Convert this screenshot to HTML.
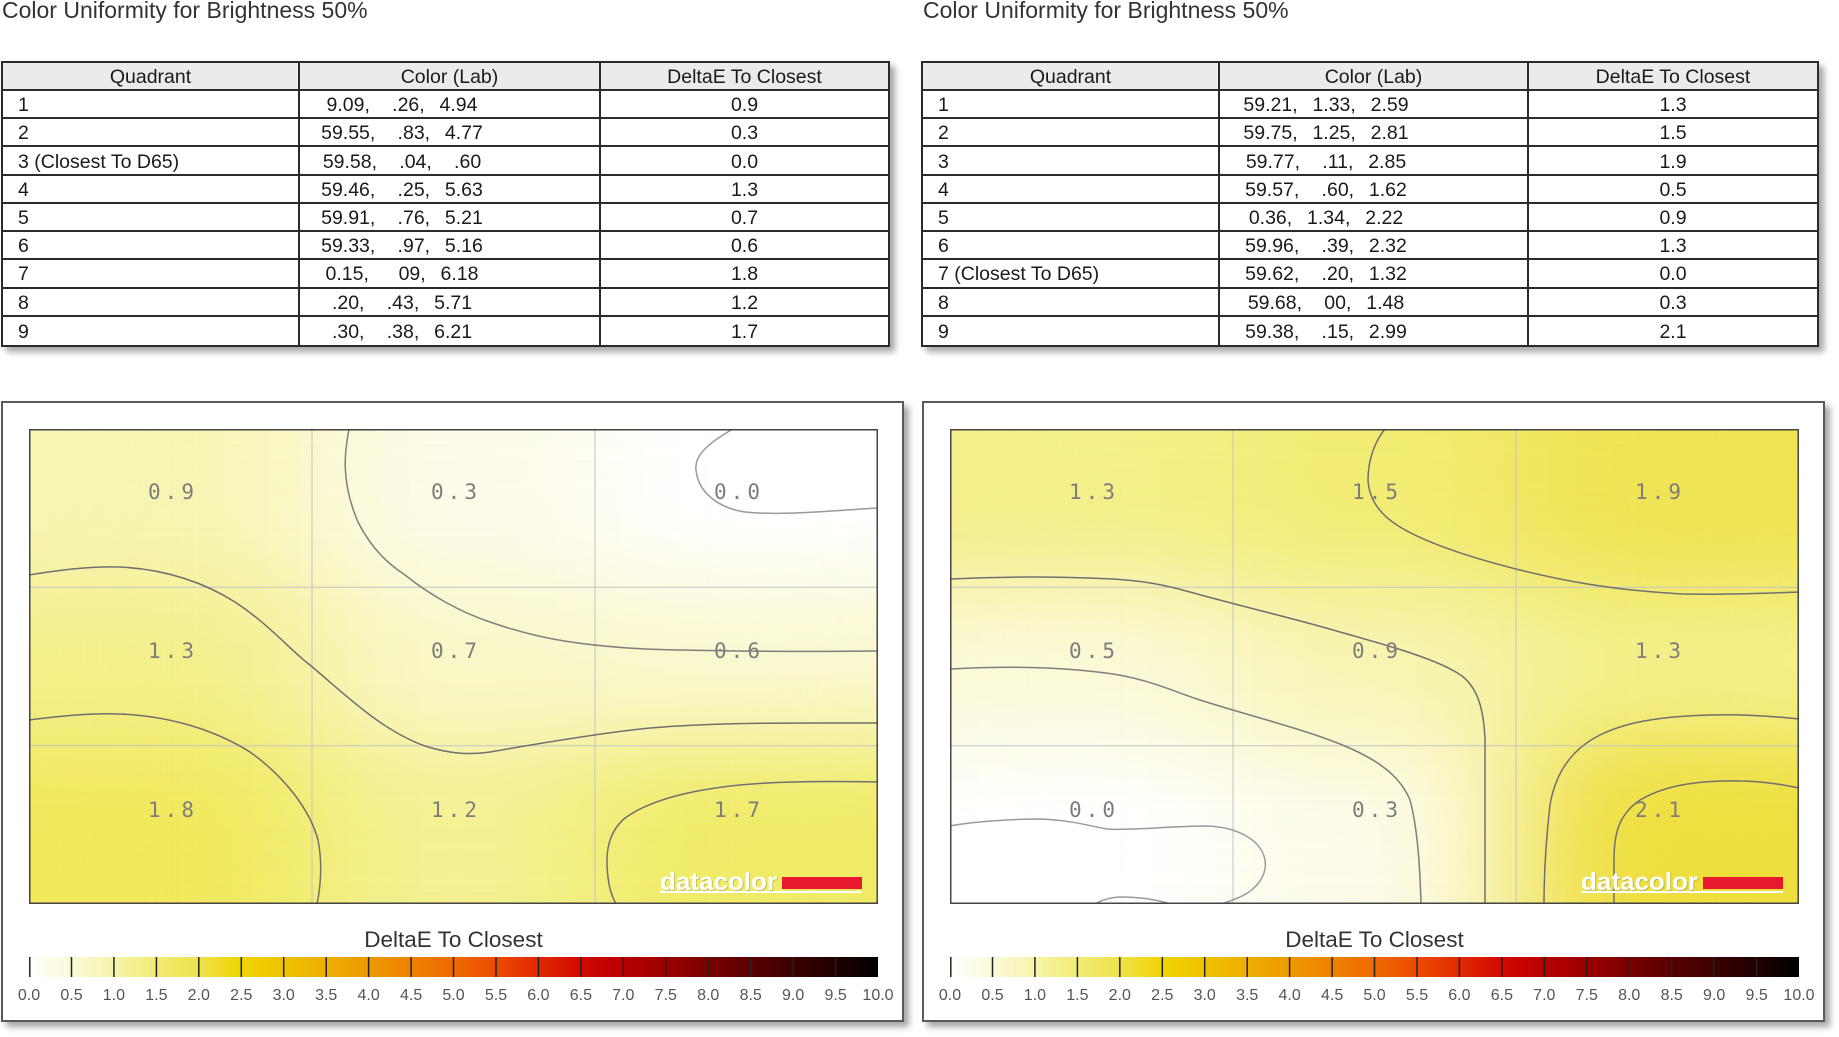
<!DOCTYPE html>
<html>
<head>
<meta charset="utf-8">
<style>
  html,body{margin:0;padding:0;background:#fff;width:1839px;height:1037px;overflow:hidden;}
  body{position:relative;font-family:"Liberation Sans",Arial,sans-serif;}
  .title{position:absolute;top:-3px;font-size:23px;line-height:26px;color:#333;white-space:nowrap;}
  .tbl{position:absolute;top:61px;height:286px;box-sizing:border-box;border:2px solid #2b2b2b;display:grid;
       grid-template-rows:28px repeat(9,1fr);box-shadow:5px 5px 6px rgba(0,0,0,0.35);background:#fff;}
  .tbl div{box-sizing:border-box;border-right:2px solid #2b2b2b;border-bottom:2px solid #2b2b2b;
       display:flex;align-items:center;font-size:19.5px;color:#1a1a1a;padding-top:3px;white-space:pre;overflow:hidden;}
  .tbl div.c3{border-right:none;justify-content:center;}
  .tbl div.c1{padding-left:15px;}
  .tbl div.c2{justify-content:center;padding-right:95px;word-spacing:2px;}
  .tbl div.h{background:#ebebeb;justify-content:center;padding-left:0;padding-right:0;word-spacing:0;}
  .tbl div.last{border-bottom:none;}
  .panel{position:absolute;top:401px;width:903px;height:621px;box-sizing:border-box;border:2px solid #5a5a5a;
       box-shadow:5px 5px 6px rgba(0,0,0,0.35);background:#fff;}
</style>
</head>
<body>
<div class="title" style="left:2px;">Color Uniformity for Brightness 50%</div>
<div class="title" style="left:923px;">Color Uniformity for Brightness 50%</div>

<div class="tbl" style="left:1px;width:889px;grid-template-columns:297px 301px 1fr;">
  <div class="h">Quadrant</div><div class="h">Color (Lab)</div><div class="h c3">DeltaE To Closest</div>
  <div class="c1">1</div><div class="c2">9.09,   .26,  4.94</div><div class="c3">0.9</div>
  <div class="c1">2</div><div class="c2">59.55,   .83,  4.77</div><div class="c3">0.3</div>
  <div class="c1">3 (Closest To D65)</div><div class="c2">59.58,   .04,   .60</div><div class="c3">0.0</div>
  <div class="c1">4</div><div class="c2">59.46,   .25,  5.63</div><div class="c3">1.3</div>
  <div class="c1">5</div><div class="c2">59.91,   .76,  5.21</div><div class="c3">0.7</div>
  <div class="c1">6</div><div class="c2">59.33,   .97,  5.16</div><div class="c3">0.6</div>
  <div class="c1">7</div><div class="c2">0.15,    09,  6.18</div><div class="c3">1.8</div>
  <div class="c1">8</div><div class="c2">.20,   .43,  5.71</div><div class="c3">1.2</div>
  <div class="c1 last">9</div><div class="c2 last">.30,   .38,  6.21</div><div class="c3 last">1.7</div>
</div>

<div class="tbl" style="left:921px;width:898px;grid-template-columns:297px 309px 1fr;">
  <div class="h">Quadrant</div><div class="h">Color (Lab)</div><div class="h c3">DeltaE To Closest</div>
  <div class="c1">1</div><div class="c2">59.21,  1.33,  2.59</div><div class="c3">1.3</div>
  <div class="c1">2</div><div class="c2">59.75,  1.25,  2.81</div><div class="c3">1.5</div>
  <div class="c1">3</div><div class="c2">59.77,   .11,  2.85</div><div class="c3">1.9</div>
  <div class="c1">4</div><div class="c2">59.57,   .60,  1.62</div><div class="c3">0.5</div>
  <div class="c1">5</div><div class="c2">0.36,  1.34,  2.22</div><div class="c3">0.9</div>
  <div class="c1">6</div><div class="c2">59.96,   .39,  2.32</div><div class="c3">1.3</div>
  <div class="c1">7 (Closest To D65)</div><div class="c2">59.62,   .20,  1.32</div><div class="c3">0.0</div>
  <div class="c1">8</div><div class="c2">59.68,   00,  1.48</div><div class="c3">0.3</div>
  <div class="c1 last">9</div><div class="c2 last">59.38,   .15,  2.99</div><div class="c3 last">2.1</div>
</div>

<div class="panel" style="left:1px;"></div>
<div class="panel" style="left:922px;"></div>

<svg width="1839" height="1037" style="position:absolute;left:0;top:0;" xmlns="http://www.w3.org/2000/svg">
  <defs>
    <linearGradient id="cb" x1="0" x2="1" y1="0" y2="0">
      <stop offset="0" stop-color="#ffffff"/>
      <stop offset="0.05" stop-color="#fbf9d8"/>
      <stop offset="0.10" stop-color="#f6f4aa"/>
      <stop offset="0.15" stop-color="#f2ec74"/>
      <stop offset="0.20" stop-color="#eee24c"/>
      <stop offset="0.25" stop-color="#f0d400"/>
      <stop offset="0.30" stop-color="#eec200"/>
      <stop offset="0.35" stop-color="#eeae00"/>
      <stop offset="0.40" stop-color="#ee9a00"/>
      <stop offset="0.45" stop-color="#ee8200"/>
      <stop offset="0.50" stop-color="#ee6a00"/>
      <stop offset="0.55" stop-color="#ec4a00"/>
      <stop offset="0.60" stop-color="#e02a00"/>
      <stop offset="0.65" stop-color="#d20800"/>
      <stop offset="0.70" stop-color="#b80000"/>
      <stop offset="0.75" stop-color="#9a0000"/>
      <stop offset="0.80" stop-color="#7a0000"/>
      <stop offset="0.85" stop-color="#5a0000"/>
      <stop offset="0.90" stop-color="#3c0000"/>
      <stop offset="0.95" stop-color="#200000"/>
      <stop offset="1" stop-color="#000000"/>
    </linearGradient>
    <filter id="bl" filterUnits="userSpaceOnUse" x="0" y="0" width="849" height="475" color-interpolation-filters="sRGB">
      <feGaussianBlur stdDeviation="70 45"/>
      <feComponentTransfer>
        <feFuncA type="linear" slope="0" intercept="1"/>
      </feComponentTransfer>
    </filter>
  </defs>

  <!-- LEFT PLOT -->
  <svg x="29" y="429" width="849" height="475" overflow="hidden">
    <g filter="url(#bl)">
      <rect x="0" y="0" width="283" height="158.33" fill="#f7f5b3"/>
      <rect x="283" y="0" width="283" height="158.33" fill="#fdfbe8"/>
      <rect x="566" y="0" width="283" height="158.33" fill="#ffffff"/>
      <rect x="0" y="158.33" width="283" height="158.34" fill="#f4ef8a"/>
      <rect x="283" y="158.33" width="283" height="158.34" fill="#f9f7c6"/>
      <rect x="566" y="158.33" width="283" height="158.34" fill="#faf8cf"/>
      <rect x="0" y="316.67" width="283" height="158.33" fill="#f0e95c"/>
      <rect x="283" y="316.67" width="283" height="158.33" fill="#f4f194"/>
      <rect x="566" y="316.67" width="283" height="158.33" fill="#f0eb66"/>
    </g>
    <g stroke="#c4c4c4" stroke-width="1">
      <line x1="283" y1="0" x2="283" y2="475"/>
      <line x1="566" y1="0" x2="566" y2="475"/>
      <line x1="0" y1="158.3" x2="849" y2="158.3"/>
      <line x1="0" y1="316.7" x2="849" y2="316.7"/>
    </g>
    <g transform="translate(-29,-429)">
      <g fill="none" stroke="#7f7f7f" stroke-width="1.5">
        <path stroke="#9a9a9a" d="M733,429 C710,442 694,455 696,470 C698,492 718,508 745,512 C785,516 840,510 878,508"/>
        <path d="M349,429 C345,450 340,480 358,522 C372,550 390,565 405,575 C430,595 460,612 490,622 C530,636 570,645 645,649 C700,651 800,652 878,651"/>
        <path stroke="#707070" d="M29,575 C60,570 90,566 120,567 C160,569 200,580 235,602 C270,625 290,650 310,665 C340,690 380,730 425,746 C450,754 470,755 490,752 C530,745 600,733 650,728 C720,722 800,723 878,723"/>
        <path stroke="#707070" d="M29,720 C60,716 90,713 120,714 C170,716 215,730 250,752 C285,777 310,810 318,840 C323,865 320,890 317,904"/>
        <path stroke="#707070" d="M878,782 C830,781 780,781 740,785 C690,790 650,800 625,818 C605,835 605,860 609,884 C611,895 614,900 616,904"/>
      </g>
      <g font-family="DejaVu Sans Mono, Liberation Mono, monospace" font-size="21" fill="#7d7d7d" text-anchor="middle" letter-spacing="4">
        <text x="173" y="499">0.9</text>
        <text x="456" y="499">0.3</text>
        <text x="739" y="499">0.0</text>
        <text x="173" y="658">1.3</text>
        <text x="456" y="658">0.7</text>
        <text x="739" y="658">0.6</text>
        <text x="173" y="817">1.8</text>
        <text x="456" y="817">1.2</text>
        <text x="739" y="817">1.7</text>
      </g>
      <text x="661" y="891" font-family="Liberation Sans, Arial, sans-serif" font-weight="bold" font-size="25" fill="rgba(0,0,0,0.18)" textLength="117" lengthAdjust="spacingAndGlyphs">datacolor</text>
      <text x="660" y="890" font-family="Liberation Sans, Arial, sans-serif" font-weight="bold" font-size="25" fill="#ffffff" textLength="117" lengthAdjust="spacingAndGlyphs">datacolor</text>
      <rect x="782" y="877" width="80" height="12" fill="#e8192c"/>
      <rect x="660" y="891" width="202" height="2" fill="#ffffff"/>
    </g>
    <rect x="0.75" y="0.75" width="847.5" height="473.5" fill="none" stroke="#444" stroke-width="1.5"/>
  </svg>

  <!-- RIGHT PLOT -->
  <svg x="950" y="429" width="849" height="475" overflow="hidden">
    <g filter="url(#bl)">
      <rect x="0" y="0" width="283" height="158.33" fill="#f4ef8a"/>
      <rect x="283" y="0" width="283" height="158.33" fill="#f2ec74"/>
      <rect x="566" y="0" width="283" height="158.33" fill="#efe453"/>
      <rect x="0" y="158.33" width="283" height="158.34" fill="#fbf9d8"/>
      <rect x="283" y="158.33" width="283" height="158.34" fill="#f7f5b3"/>
      <rect x="566" y="158.33" width="283" height="158.34" fill="#f4ef8a"/>
      <rect x="0" y="316.67" width="283" height="158.33" fill="#ffffff"/>
      <rect x="283" y="316.67" width="283" height="158.33" fill="#fdfbe8"/>
      <rect x="566" y="316.67" width="283" height="158.33" fill="#eedf3d"/>
    </g>
    <g stroke="#c4c4c4" stroke-width="1">
      <line x1="283" y1="0" x2="283" y2="475"/>
      <line x1="566" y1="0" x2="566" y2="475"/>
      <line x1="0" y1="158.3" x2="849" y2="158.3"/>
      <line x1="0" y1="316.7" x2="849" y2="316.7"/>
    </g>
    <g transform="translate(-950,-429)">
      <g fill="none" stroke="#7f7f7f" stroke-width="1.5">
        <path stroke="#707070" d="M1385,429 C1376,440 1368,458 1368,480 C1369,500 1380,515 1400,527 C1430,545 1480,560 1520,570 C1560,580 1610,590 1682,594 C1730,595 1770,593 1799,592"/>
        <path stroke="#707070" d="M950,579 C990,577 1050,576 1113,579 C1145,581 1165,585 1190,592 C1240,606 1300,620 1340,632 C1390,646 1440,660 1462,676 C1480,690 1484,715 1485,740 L1485,904"/>
        <path d="M950,669 C990,667 1050,665 1113,674 C1150,680 1170,690 1200,700 C1250,716 1300,728 1340,744 C1375,758 1400,775 1410,800 C1418,830 1420,870 1421,904"/>
        <path stroke="#9a9a9a" d="M950,826 C970,822 1010,819 1040,819 C1070,820 1090,826 1107,829 C1125,831 1170,826 1207,826 C1235,827 1258,838 1264,856 C1270,875 1255,892 1235,899 C1228,902 1222,904 1217,905"/>
        <path stroke="#9a9a9a" d="M1093,905 C1103,899 1112,897 1122,897 C1140,897 1160,900 1173,905"/>
        <path stroke="#707070" d="M1799,788 C1780,784 1760,781 1740,781 C1700,780 1665,785 1640,800 C1618,815 1614,835 1614,860 L1614,904"/>
        <path stroke="#707070" d="M1799,719 C1770,716 1740,714 1711,715 C1670,716 1630,720 1600,735 C1570,750 1555,775 1550,805 C1546,840 1544,870 1544,904"/>
      </g>
      <g font-family="DejaVu Sans Mono, Liberation Mono, monospace" font-size="21" fill="#7d7d7d" text-anchor="middle" letter-spacing="4">
        <text x="1094" y="499">1.3</text>
        <text x="1377" y="499">1.5</text>
        <text x="1660" y="499">1.9</text>
        <text x="1094" y="658">0.5</text>
        <text x="1377" y="658">0.9</text>
        <text x="1660" y="658">1.3</text>
        <text x="1094" y="817">0.0</text>
        <text x="1377" y="817">0.3</text>
        <text x="1660" y="817">2.1</text>
      </g>
      <text x="1582" y="891" font-family="Liberation Sans, Arial, sans-serif" font-weight="bold" font-size="25" fill="rgba(0,0,0,0.18)" textLength="117" lengthAdjust="spacingAndGlyphs">datacolor</text>
      <text x="1581" y="890" font-family="Liberation Sans, Arial, sans-serif" font-weight="bold" font-size="25" fill="#ffffff" textLength="117" lengthAdjust="spacingAndGlyphs">datacolor</text>
      <rect x="1703" y="877" width="80" height="12" fill="#e8192c"/>
      <rect x="1581" y="891" width="202" height="2" fill="#ffffff"/>
    </g>
    <rect x="0.75" y="0.75" width="847.5" height="473.5" fill="none" stroke="#444" stroke-width="1.5"/>
  </svg>

  <!-- COLORBAR LEFT -->
  <text x="453.5" y="947" font-family="Liberation Sans, Arial, sans-serif" font-size="22.5" fill="#333" text-anchor="middle">DeltaE To Closest</text>
  <rect x="29" y="957" width="849" height="20" fill="url(#cb)"/>
  <g stroke="#222" stroke-width="1.5">
    <line x1="29.8" y1="957" x2="29.8" y2="977"/><line x1="71.5" y1="957" x2="71.5" y2="977"/><line x1="113.9" y1="957" x2="113.9" y2="977"/><line x1="156.4" y1="957" x2="156.4" y2="977"/><line x1="198.8" y1="957" x2="198.8" y2="977"/><line x1="241.3" y1="957" x2="241.3" y2="977"/><line x1="283.7" y1="957" x2="283.7" y2="977"/><line x1="326.2" y1="957" x2="326.2" y2="977"/><line x1="368.6" y1="957" x2="368.6" y2="977"/><line x1="411.1" y1="957" x2="411.1" y2="977"/><line x1="453.5" y1="957" x2="453.5" y2="977"/><line x1="496" y1="957" x2="496" y2="977"/><line x1="538.4" y1="957" x2="538.4" y2="977"/><line x1="580.9" y1="957" x2="580.9" y2="977"/><line x1="623.3" y1="957" x2="623.3" y2="977"/><line x1="665.8" y1="957" x2="665.8" y2="977"/><line x1="708.2" y1="957" x2="708.2" y2="977"/><line x1="750.7" y1="957" x2="750.7" y2="977"/><line x1="793.1" y1="957" x2="793.1" y2="977"/><line x1="835.6" y1="957" x2="835.6" y2="977"/>
  </g>
  <g font-family="Liberation Sans, Arial, sans-serif" font-size="16" fill="#555" text-anchor="middle">
    <text x="29" y="1000">0.0</text><text x="71.5" y="1000">0.5</text><text x="113.9" y="1000">1.0</text><text x="156.4" y="1000">1.5</text><text x="198.8" y="1000">2.0</text><text x="241.3" y="1000">2.5</text><text x="283.7" y="1000">3.0</text><text x="326.2" y="1000">3.5</text><text x="368.6" y="1000">4.0</text><text x="411.1" y="1000">4.5</text><text x="453.5" y="1000">5.0</text><text x="496" y="1000">5.5</text><text x="538.4" y="1000">6.0</text><text x="580.9" y="1000">6.5</text><text x="623.3" y="1000">7.0</text><text x="665.8" y="1000">7.5</text><text x="708.2" y="1000">8.0</text><text x="750.7" y="1000">8.5</text><text x="793.1" y="1000">9.0</text><text x="835.6" y="1000">9.5</text><text x="878" y="1000">10.0</text>
  </g>

  <!-- COLORBAR RIGHT -->
  <text x="1374.5" y="947" font-family="Liberation Sans, Arial, sans-serif" font-size="22.5" fill="#333" text-anchor="middle">DeltaE To Closest</text>
  <rect x="950" y="957" width="849" height="20" fill="url(#cb)"/>
  <g stroke="#222" stroke-width="1.5" transform="translate(921,0)">
    <line x1="29.8" y1="957" x2="29.8" y2="977"/><line x1="71.5" y1="957" x2="71.5" y2="977"/><line x1="113.9" y1="957" x2="113.9" y2="977"/><line x1="156.4" y1="957" x2="156.4" y2="977"/><line x1="198.8" y1="957" x2="198.8" y2="977"/><line x1="241.3" y1="957" x2="241.3" y2="977"/><line x1="283.7" y1="957" x2="283.7" y2="977"/><line x1="326.2" y1="957" x2="326.2" y2="977"/><line x1="368.6" y1="957" x2="368.6" y2="977"/><line x1="411.1" y1="957" x2="411.1" y2="977"/><line x1="453.5" y1="957" x2="453.5" y2="977"/><line x1="496" y1="957" x2="496" y2="977"/><line x1="538.4" y1="957" x2="538.4" y2="977"/><line x1="580.9" y1="957" x2="580.9" y2="977"/><line x1="623.3" y1="957" x2="623.3" y2="977"/><line x1="665.8" y1="957" x2="665.8" y2="977"/><line x1="708.2" y1="957" x2="708.2" y2="977"/><line x1="750.7" y1="957" x2="750.7" y2="977"/><line x1="793.1" y1="957" x2="793.1" y2="977"/><line x1="835.6" y1="957" x2="835.6" y2="977"/>
  </g>
  <g font-family="Liberation Sans, Arial, sans-serif" font-size="16" fill="#555" text-anchor="middle" transform="translate(921,0)">
    <text x="29" y="1000">0.0</text><text x="71.5" y="1000">0.5</text><text x="113.9" y="1000">1.0</text><text x="156.4" y="1000">1.5</text><text x="198.8" y="1000">2.0</text><text x="241.3" y="1000">2.5</text><text x="283.7" y="1000">3.0</text><text x="326.2" y="1000">3.5</text><text x="368.6" y="1000">4.0</text><text x="411.1" y="1000">4.5</text><text x="453.5" y="1000">5.0</text><text x="496" y="1000">5.5</text><text x="538.4" y="1000">6.0</text><text x="580.9" y="1000">6.5</text><text x="623.3" y="1000">7.0</text><text x="665.8" y="1000">7.5</text><text x="708.2" y="1000">8.0</text><text x="750.7" y="1000">8.5</text><text x="793.1" y="1000">9.0</text><text x="835.6" y="1000">9.5</text><text x="878" y="1000">10.0</text>
  </g>
</svg>
</body>
</html>
